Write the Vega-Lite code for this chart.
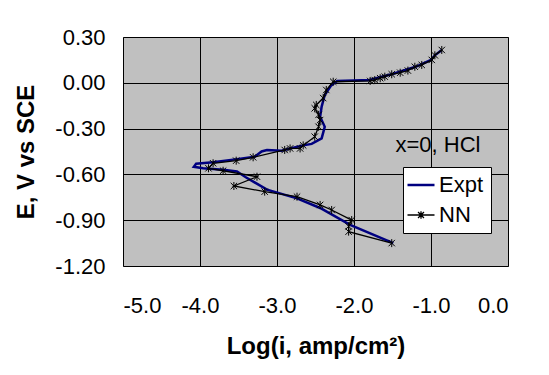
{
  "$schema": "https://vega.github.io/schema/vega-lite/v6.json",
  "width": 385,
  "height": 229,
  "autosize": {"type": "none"},
  "padding": {"left": 123, "top": 37, "right": 41, "bottom": 109},
  "background": "white",
  "config": {
    "view": {"fill": "#C0C0C0", "stroke": "#808080", "strokeWidth": 1},
    "font": "Liberation Sans"
  },
  "datasets": {
    "expt": [
      {"k": 1, "series": "Expt", "logi": -0.86, "E": 0.215},
      {"k": 2, "series": "Expt", "logi": -0.95, "E": 0.18},
      {"k": 3, "series": "Expt", "logi": -1.0, "E": 0.15},
      {"k": 4, "series": "Expt", "logi": -1.2, "E": 0.105},
      {"k": 5, "series": "Expt", "logi": -1.5, "E": 0.058},
      {"k": 6, "series": "Expt", "logi": -1.8, "E": 0.018},
      {"k": 7, "series": "Expt", "logi": -2.0, "E": 0.015},
      {"k": 8, "series": "Expt", "logi": -2.22, "E": 0.012},
      {"k": 9, "series": "Expt", "logi": -2.3, "E": -0.02},
      {"k": 10, "series": "Expt", "logi": -2.38, "E": -0.08},
      {"k": 11, "series": "Expt", "logi": -2.42, "E": -0.156},
      {"k": 12, "series": "Expt", "logi": -2.44, "E": -0.222},
      {"k": 13, "series": "Expt", "logi": -2.38, "E": -0.288},
      {"k": 14, "series": "Expt", "logi": -2.42, "E": -0.364},
      {"k": 15, "series": "Expt", "logi": -2.55, "E": -0.4},
      {"k": 16, "series": "Expt", "logi": -2.66, "E": -0.41},
      {"k": 17, "series": "Expt", "logi": -2.83, "E": -0.43},
      {"k": 18, "series": "Expt", "logi": -2.94, "E": -0.445},
      {"k": 19, "series": "Expt", "logi": -3.13, "E": -0.44},
      {"k": 20, "series": "Expt", "logi": -3.2, "E": -0.45},
      {"k": 21, "series": "Expt", "logi": -3.29, "E": -0.485},
      {"k": 22, "series": "Expt", "logi": -3.52, "E": -0.5},
      {"k": 23, "series": "Expt", "logi": -3.83, "E": -0.52},
      {"k": 24, "series": "Expt", "logi": -4.05, "E": -0.53},
      {"k": 25, "series": "Expt", "logi": -4.08, "E": -0.55},
      {"k": 26, "series": "Expt", "logi": -3.96, "E": -0.56},
      {"k": 27, "series": "Expt", "logi": -3.7, "E": -0.57},
      {"k": 28, "series": "Expt", "logi": -3.52, "E": -0.58},
      {"k": 29, "series": "Expt", "logi": -3.4, "E": -0.62},
      {"k": 30, "series": "Expt", "logi": -3.13, "E": -0.7},
      {"k": 31, "series": "Expt", "logi": -2.74, "E": -0.757},
      {"k": 32, "series": "Expt", "logi": -2.44, "E": -0.82},
      {"k": 33, "series": "Expt", "logi": -2.05, "E": -0.93},
      {"k": 34, "series": "Expt", "logi": -1.49, "E": -1.05}
    ],
    "nn": [
      {"k": 1, "series": "NN", "logi": -0.86, "E": 0.215},
      {"k": 2, "series": "NN", "logi": -0.95, "E": 0.18},
      {"k": 3, "series": "NN", "logi": -0.99, "E": 0.15},
      {"k": 4, "series": "NN", "logi": -1.12, "E": 0.117},
      {"k": 5, "series": "NN", "logi": -1.21, "E": 0.105},
      {"k": 6, "series": "NN", "logi": -1.3, "E": 0.08},
      {"k": 7, "series": "NN", "logi": -1.4, "E": 0.066},
      {"k": 8, "series": "NN", "logi": -1.51, "E": 0.056},
      {"k": 9, "series": "NN", "logi": -1.6, "E": 0.04},
      {"k": 10, "series": "NN", "logi": -1.66, "E": 0.03},
      {"k": 11, "series": "NN", "logi": -1.73, "E": 0.018},
      {"k": 12, "series": "NN", "logi": -1.79, "E": 0.012},
      {"k": 13, "series": "NN", "logi": -2.27, "E": 0.007},
      {"k": 14, "series": "NN", "logi": -2.36, "E": -0.047},
      {"k": 15, "series": "NN", "logi": -2.4, "E": -0.1},
      {"k": 16, "series": "NN", "logi": -2.49, "E": -0.145},
      {"k": 17, "series": "NN", "logi": -2.51, "E": -0.167},
      {"k": 18, "series": "NN", "logi": -2.46, "E": -0.21},
      {"k": 19, "series": "NN", "logi": -2.44, "E": -0.244},
      {"k": 20, "series": "NN", "logi": -2.46, "E": -0.288},
      {"k": 21, "series": "NN", "logi": -2.51, "E": -0.353},
      {"k": 22, "series": "NN", "logi": -2.66, "E": -0.41},
      {"k": 23, "series": "NN", "logi": -2.7, "E": -0.43},
      {"k": 24, "series": "NN", "logi": -2.83, "E": -0.43},
      {"k": 25, "series": "NN", "logi": -2.9, "E": -0.44},
      {"k": 26, "series": "NN", "logi": -3.31, "E": -0.488},
      {"k": 27, "series": "NN", "logi": -3.53, "E": -0.51},
      {"k": 28, "series": "NN", "logi": -3.83, "E": -0.527},
      {"k": 29, "series": "NN", "logi": -3.89, "E": -0.56},
      {"k": 30, "series": "NN", "logi": -3.7, "E": -0.576},
      {"k": 31, "series": "NN", "logi": -3.26, "E": -0.615},
      {"k": 32, "series": "NN", "logi": -3.56, "E": -0.676},
      {"k": 33, "series": "NN", "logi": -3.16, "E": -0.713},
      {"k": 34, "series": "NN", "logi": -2.74, "E": -0.746},
      {"k": 35, "series": "NN", "logi": -2.44, "E": -0.8},
      {"k": 36, "series": "NN", "logi": -2.29, "E": -0.833},
      {"k": 37, "series": "NN", "logi": -2.03, "E": -0.899},
      {"k": 38, "series": "NN", "logi": -2.07, "E": -0.94},
      {"k": 39, "series": "NN", "logi": -2.07, "E": -0.975},
      {"k": 40, "series": "NN", "logi": -1.51, "E": -1.05}
    ]
  },
  "encoding": {
    "x": {
      "field": "logi",
      "type": "quantitative",
      "scale": {"domain": [-5, 0], "nice": false, "zero": false},
      "axis": {
        "title": "Log(i, amp/cm²)",
        "titleFont": "Liberation Sans",
        "titleFontSize": 24,
        "titleFontWeight": "bold",
        "titleColor": "black",
        "titlePadding": 18,
        "values": [-5, -4, -3, -2, -1, 0],
        "labelExpr": "replace(format(datum.value, '.1f'), '\u2212', '-')",
        "labelFont": "Liberation Sans",
        "labelFontSize": 22,
        "labelColor": "black",
        "labelPadding": 29,
        "ticks": false,
        "tickSize": 0,
        "domain": false,
        "grid": true,
        "gridColor": "#000000",
        "gridOpacity": 1,
        "gridWidth": 1
      }
    },
    "y": {
      "field": "E",
      "type": "quantitative",
      "scale": {"domain": [-1.2, 0.3], "nice": false, "zero": false},
      "axis": {
        "title": "E, V vs SCE",
        "titleFont": "Liberation Sans",
        "titleFontSize": 24,
        "titleFontWeight": "bold",
        "titleColor": "black",
        "titlePadding": 16,
        "values": [-1.2, -0.9, -0.6, -0.3, 0, 0.3],
        "labelExpr": "replace(format(datum.value, '.2f'), '\u2212', '-')",
        "labelFont": "Liberation Sans",
        "labelFontSize": 22,
        "labelColor": "black",
        "labelPadding": 18,
        "ticks": false,
        "tickSize": 0,
        "domain": false,
        "grid": true,
        "gridColor": "#000000",
        "gridOpacity": 1,
        "gridWidth": 1
      }
    }
  },
  "layer": [
    {
      "data": {"name": "expt"},
      "mark": {"type": "line", "strokeWidth": 2.5},
      "encoding": {
        "order": {"field": "k", "type": "quantitative"},
        "color": {
          "field": "series",
          "type": "nominal",
          "scale": {"domain": ["Expt", "NN"], "range": ["#000080", "#000000"]},
          "legend": {
            "orient": "none",
            "legendX": 280,
            "legendY": 130,
            "title": null,
            "fillColor": "white",
            "strokeColor": "black",
            "padding": 7,
            "labelFont": "Liberation Sans",
            "labelFontSize": 22,
            "labelColor": "black",
            "labelOffset": 7,
            "symbolSize": 729,
            "symbolStrokeWidth": 2,
            "rowPadding": 8,
            "encode": {
              "symbols": {
                "update": {
                  "shape": {"signal": "datum.value === 'NN' ? 'M-1,0L1,0M-0.22,-0.22L0.22,0.22M-0.22,0.22L0.22,-0.22M0,-0.28L0,0.28' : 'M-1,0L1,0'"},
                  "strokeWidth": {"signal": "datum.value === 'NN' ? 1.3 : 2.5"},
                  "fill": {"value": "transparent"},
                  "size": {"value": 729}
                }
              }
            }
          }
        }
      }
    },
    {
      "data": {"name": "nn"},
      "mark": {"type": "line", "strokeWidth": 1.3},
      "encoding": {
        "order": {"field": "k", "type": "quantitative"},
        "color": {"field": "series", "type": "nominal"}
      }
    },
    {
      "data": {"name": "nn"},
      "mark": {
        "type": "point",
        "shape": "M-0.8,-0.8L0.8,0.8M-0.8,0.8L0.8,-0.8M0,-1L0,1",
        "filled": false,
        "size": 64,
        "strokeWidth": 1,
        "opacity": 1
      },
      "encoding": {
        "color": {"field": "series", "type": "nominal"}
      }
    },
    {
      "data": {"values": [{"logi": -0.91, "E": -0.407, "label": "x=0, HCl"}]},
      "mark": {"type": "text", "font": "Liberation Sans", "fontSize": 22, "color": "black", "align": "center", "baseline": "middle"},
      "encoding": {
        "text": {"field": "label", "type": "nominal"}
      }
    }
  ]
}
